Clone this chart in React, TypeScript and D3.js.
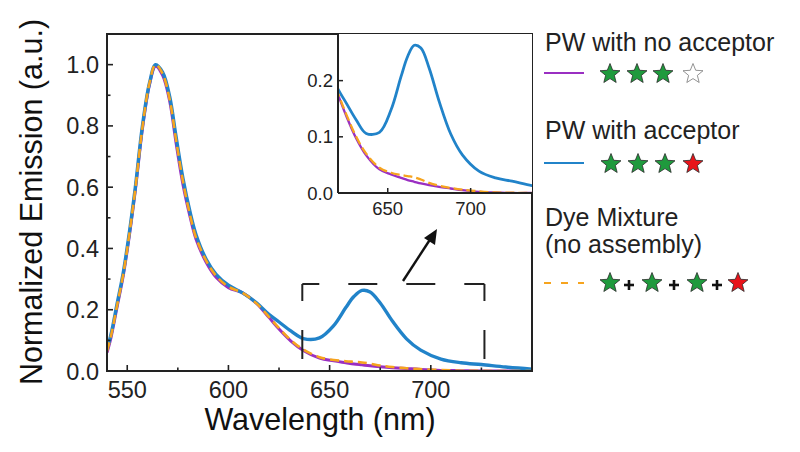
import React from 'react';
import * as d3 from 'd3';

// ---- data ----
const wavelengths = [540, 542, 545, 548, 551, 554, 557.5, 561, 564, 567.5, 571, 574, 577.5, 581, 584, 589, 594, 600, 607, 614, 620, 625, 631, 637, 645, 652, 658, 662, 666, 670, 675, 681, 688, 695, 705, 715, 725, 737, 750];
const noAcceptor = [0.06, 0.11, 0.21, 0.31, 0.44, 0.59, 0.79, 0.935, 0.995, 0.965, 0.88, 0.75, 0.61, 0.505, 0.43, 0.355, 0.305, 0.272, 0.255, 0.22, 0.175, 0.137, 0.097, 0.067, 0.042, 0.033, 0.027, 0.023, 0.02, 0.017, 0.014, 0.011, 0.008, 0.005, 0.002, 0.001, 0, 0, 0];
const withAcceptor = [0.07, 0.12, 0.22, 0.32, 0.45, 0.6, 0.8, 0.94, 1.0, 0.975, 0.895, 0.77, 0.63, 0.52, 0.445, 0.365, 0.315, 0.28, 0.255, 0.222, 0.185, 0.16, 0.13, 0.106, 0.108, 0.148, 0.207, 0.243, 0.263, 0.258, 0.222, 0.163, 0.105, 0.068, 0.039, 0.027, 0.021, 0.013, 0.006];
const dyeMixture = [0.065, 0.115, 0.215, 0.315, 0.445, 0.595, 0.795, 0.94, 1.0, 0.97, 0.885, 0.76, 0.62, 0.51, 0.435, 0.36, 0.31, 0.275, 0.255, 0.22, 0.177, 0.14, 0.1, 0.07, 0.045, 0.036, 0.032, 0.03, 0.028, 0.024, 0.018, 0.013, 0.009, 0.006, 0.003, 0.001, 0.0005, 0, 0];

const mainXTicks = [550, 600, 650, 700];
const mainXMinor = [575, 625, 675, 725];
const mainYTicks = [0, 0.2, 0.4, 0.6, 0.8, 1.0];
const mainYMinor = [0.1, 0.3, 0.5, 0.7, 0.9];
const insetXTicks = [650, 700];
const insetYTicks = [0, 0.1, 0.2];
const zoomBox = { x0: 636.5, x1: 726.5, y0: 0, y1: 0.284 };

const legendTitles = ['PW with no acceptor', 'PW with acceptor', 'Dye Mixture', '(no assembly)'];

const COLORS = { purple: '#9a2fc2', blue: '#2183c9', orange: '#f6a41e', green: '#1f9a3d', red: '#e8141a' };
const FONT = 'Liberation Sans, Arial, sans-serif';

function starPath(cx: number, cy: number, R: number, r: number) {
  const pts: string[] = [];
  for (let i = 0; i < 10; i++) {
    const a = -Math.PI / 2 + (i * Math.PI) / 5;
    const rad = i % 2 === 0 ? R : r;
    pts.push(`${(cx + rad * Math.cos(a)).toFixed(2)},${(cy + rad * Math.sin(a)).toFixed(2)}`);
  }
  return 'M' + pts.join('L') + 'Z';
}

function Star({ cx, cy, fill, stroke = '#2a2a2a' }: { cx: number; cy: number; fill: string; stroke?: string }) {
  return <path d={starPath(cx, cy, 10.5, 4.6)} fill={fill} stroke={stroke} strokeWidth={0.8} />;
}

function Plus({ cx, cy }: { cx: number; cy: number }) {
  return (
    <g stroke="#111" strokeWidth={2.6}>
      <line x1={cx - 5} x2={cx + 5} y1={cy} y2={cy} />
      <line x1={cx} x2={cx} y1={cy - 5} y2={cy + 5} />
    </g>
  );
}

export default function App() {
  const x = d3.scaleLinear().domain([540, 750]).range([107, 532]);
  const y = d3.scaleLinear().domain([0, 1.1]).range([371, 34]);
  const xi = d3.scaleLinear().domain([620, 737]).range([338, 532]);
  const yi = d3.scaleLinear().domain([0, 0.283]).range([193, 34]);

  const pts = (vals: number[]) => wavelengths.map((w, i) => [w, vals[i]] as [number, number]);
  const mainLine = d3.line<[number, number]>().x(d => x(d[0])).y(d => y(d[1])).curve(d3.curveCatmullRom.alpha(0.5));
  const insetLine = d3.line<[number, number]>().x(d => xi(d[0])).y(d => yi(d[1])).curve(d3.curveCatmullRom.alpha(0.5));

  const series = [
    { vals: noAcceptor, color: COLORS.purple, w: 3, dash: undefined },
    { vals: withAcceptor, color: COLORS.blue, w: 3.4, dash: undefined },
    { vals: dyeMixture, color: COLORS.orange, w: 2.6, dash: '9,5' },
  ];

  const bx0 = x(zoomBox.x0), bx1 = x(zoomBox.x1), by0 = y(zoomBox.y1), by1 = y(zoomBox.y0);

  return (
    <svg width={800} height={452} style={{ position: 'absolute', left: 0, top: 0, background: '#fff' }} fontFamily={FONT}>
      <defs>
        <clipPath id="mainClip"><rect x={107} y={34} width={425} height={337} /></clipPath>
        <clipPath id="insetClip"><rect x={338} y={34} width={194} height={159} /></clipPath>
      </defs>
      <rect width={800} height={452} fill="#fff" />

      {/* main curves */}
      <g clipPath="url(#mainClip)">
        {series.map((s, i) => (
          <path key={i} d={mainLine(pts(s.vals)) || ''} fill="none" stroke={s.color} strokeWidth={s.w} strokeDasharray={s.dash} strokeLinejoin="round" />
        ))}
      </g>

      {/* zoom box dashed */}
      <g stroke="#222" strokeWidth={2} fill="none" strokeDasharray="29,29" strokeDashoffset={12}>
        <line x1={bx0} x2={bx1} y1={by0} y2={by0} />
        <line x1={bx0} x2={bx0} y1={by0} y2={by1} />
        <line x1={bx1} x2={bx1} y1={by0} y2={by1} />
        <line x1={bx0} x2={bx1} y1={by1} y2={by1} />
      </g>

      {/* arrow */}
      <line x1={403} y1={281} x2={431} y2={238} stroke="#111" strokeWidth={2.4} />
      <path d="M437,229 L424,238 L435,245 Z" fill="#111" />

      {/* main frame */}
      <rect x={107} y={34} width={425} height={337} fill="none" stroke="#222" strokeWidth={2} />
      {/* main ticks */}
      <g stroke="#222" strokeWidth={1.6}>
        {mainXTicks.map(t => <line key={'mx' + t} x1={x(t)} x2={x(t)} y1={371} y2={365} />)}
        {mainXMinor.map(t => <line key={'mxm' + t} x1={x(t)} x2={x(t)} y1={371} y2={367.5} />)}
        {mainYTicks.map(t => <line key={'my' + t} x1={107} x2={113} y1={y(t)} y2={y(t)} />)}
        {mainYMinor.map(t => <line key={'mym' + t} x1={107} x2={110.5} y1={y(t)} y2={y(t)} />)}
      </g>
      <g fontSize={23.5} fill="#222">
        {mainXTicks.map(t => <text key={'lx' + t} x={x(t)} y={397.5} textAnchor="middle">{t}</text>)}
        {mainYTicks.map(t => <text key={'ly' + t} x={99} y={y(t) + 8.5} textAnchor="end">{d3.format('.1f')(t)}</text>)}
      </g>
      <text x={320} y={429.5} textAnchor="middle" fontSize={30.5} fill="#111">Wavelength (nm)</text>
      <text transform="translate(42,202) rotate(-90)" textAnchor="middle" fontSize={30.5} fill="#111">Normalized Emission (a.u.)</text>

      {/* inset */}
      <rect x={338} y={34} width={194} height={159} fill="#fff" />
      <g clipPath="url(#insetClip)">
        {series.map((s, i) => (
          <path key={i} d={insetLine(pts(s.vals)) || ''} fill="none" stroke={s.color} strokeWidth={i === 1 ? 2.8 : 2.3} strokeDasharray={s.dash ? '9,4' : undefined} strokeLinejoin="round" />
        ))}
      </g>
      <g stroke="#222" strokeWidth={2} fill="none">
        <line x1={338} x2={338} y1={34} y2={193} />
        <line x1={338} x2={532} y1={193} y2={193} />
      </g>
      <g stroke="#222" strokeWidth={1.5}>
        {insetXTicks.map(t => <line key={'ix' + t} x1={xi(t)} x2={xi(t)} y1={193} y2={188} />)}
        {insetYTicks.map(t => <line key={'iy' + t} x1={338} x2={343} y1={yi(t)} y2={yi(t)} />)}
      </g>
      <g fontSize={18.5} fill="#222">
        {insetXTicks.map(t => <text key={'ilx' + t} x={xi(t)} y={215} textAnchor="middle">{t}</text>)}
        {insetYTicks.map(t => <text key={'ily' + t} x={333} y={yi(t) + 6.5} textAnchor="end">{d3.format('.1f')(t)}</text>)}
      </g>

      {/* legend */}
      <g fontSize={25} fill="#222">
        <text x={545} y={51}>{legendTitles[0]}</text>
        <text x={545} y={139}>{legendTitles[1]}</text>
        <text x={545} y={226}>{legendTitles[2]}</text>
        <text x={545} y={253}>{legendTitles[3]}</text>
      </g>
      <line x1={544} x2={584} y1={73} y2={73} stroke={COLORS.purple} strokeWidth={2} />
      <line x1={544} x2={584} y1={163} y2={163} stroke={COLORS.blue} strokeWidth={2} />
      <line x1={544} x2={584} y1={283} y2={283} stroke={COLORS.orange} strokeWidth={2} strokeDasharray="7,10" />

      <Star cx={610} cy={74} fill={COLORS.green} />
      <Star cx={637} cy={74} fill={COLORS.green} />
      <Star cx={663} cy={74} fill={COLORS.green} />
      <Star cx={693} cy={74} fill="#fff" stroke="#777" />

      <Star cx={611} cy={164} fill={COLORS.green} />
      <Star cx={638} cy={164} fill={COLORS.green} />
      <Star cx={665} cy={164} fill={COLORS.green} />
      <Star cx={693} cy={164} fill={COLORS.red} />

      <Star cx={610} cy={283} fill={COLORS.green} />
      <Plus cx={629} cy={285} />
      <Star cx={652} cy={283} fill={COLORS.green} />
      <Plus cx={674} cy={285} />
      <Star cx={697} cy={283} fill={COLORS.green} />
      <Plus cx={717} cy={285} />
      <Star cx={738} cy={283} fill={COLORS.red} />
    </svg>
  );
}
